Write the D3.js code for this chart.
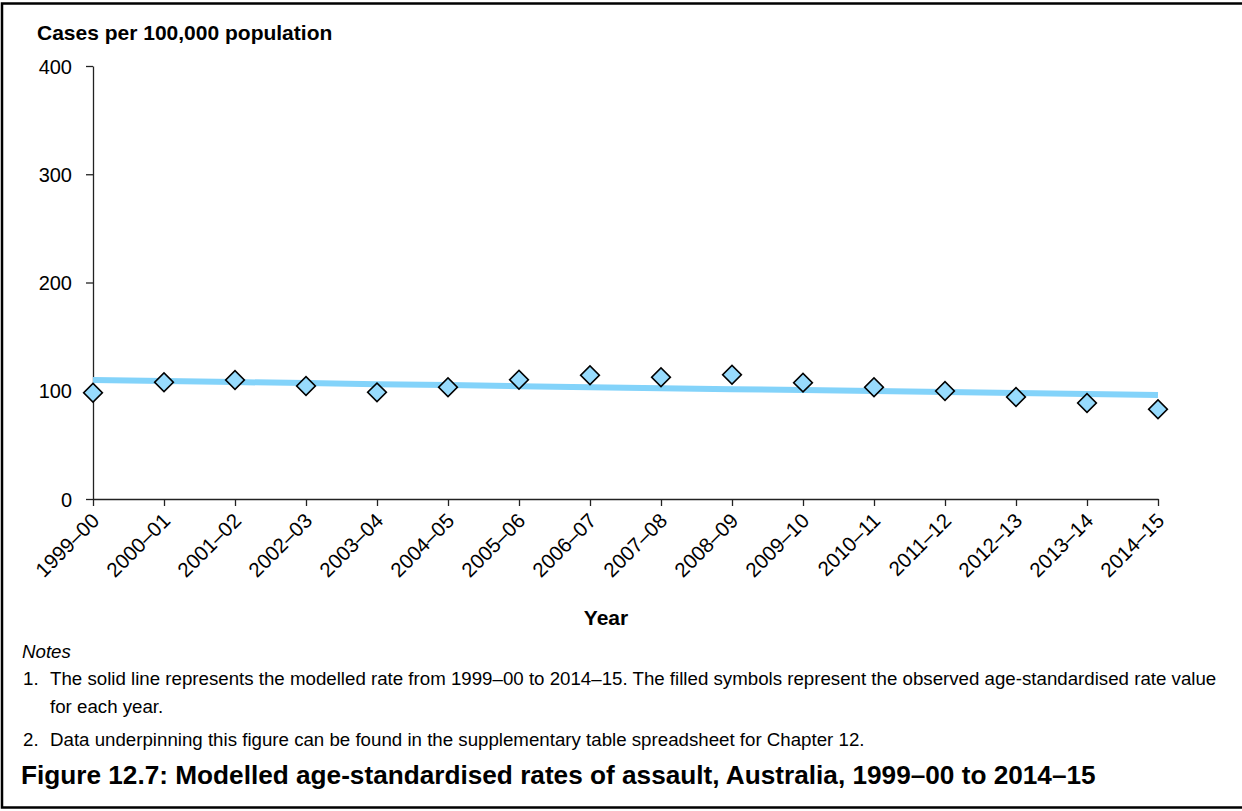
<!DOCTYPE html>
<html><head><meta charset="utf-8">
<script src="https://cdn.jsdelivr.net/npm/d3@7"></script>
<style>
html,body{margin:0;padding:0;background:#fff;}
svg{display:block;font-family:Arial,"Liberation Sans",sans-serif;}
</style></head>
<body>
<svg id="c" width="1242" height="811"></svg>
<script>
const years = ["1999–00","2000–01","2001–02","2002–03","2003–04","2004–05","2005–06","2006–07","2007–08","2008–09","2009–10","2010–11","2011–12","2012–13","2013–14","2014–15"];
const observed = [98.2,107.8,109.9,104.4,98.5,103.2,110.2,114.3,112.4,114.8,107.5,103.2,99.8,94.2,88.7,82.9];
const modelled = [110.0,109.0,108.0,107.1,106.1,105.2,104.2,103.3,102.4,101.5,100.6,99.7,98.8,97.9,97.0,96.1];
const yTicks = [0,100,200,300,400];
const yTitle = "Cases per 100,000 population";
const xTitle = "Year";
const notesHead = "Notes";
const notes = [
  ["1.", "The solid line represents the modelled rate from 1999–00 to 2014–15. The filled symbols represent the observed age-standardised rate value", "for each year."],
  ["2.", "Data underpinning this figure can be found in the supplementary table spreadsheet for Chapter 12."]
];
const caption = "Figure 12.7: Modelled age-standardised rates of assault, Australia, 1999–00 to 2014–15";

const FF = "Arial,'Liberation Sans',sans-serif";
const svg = d3.select("#c");
svg.append("rect").attr("x",2).attr("y",3.5).attr("width",1250).attr("height",804)
  .attr("fill","none").attr("stroke","#000").attr("stroke-width",2.5);

const x = d3.scalePoint().domain(years).range([93,1158]);
const y = d3.scaleLinear().domain([0,400]).range([499,66]);

// y axis
const ya = svg.append("g").attr("transform","translate(93,0)")
  .call(d3.axisLeft(y).tickValues(yTicks).tickSize(7).tickSizeOuter(0).tickPadding(14));
ya.select(".domain").attr("stroke","#222").attr("stroke-width",1.3);
ya.selectAll(".tick line").attr("stroke","#222").attr("stroke-width",1.3);
ya.selectAll(".tick text").attr("font-size",20).attr("fill","#000").attr("font-family",FF).attr("dy","0.36em");

// x axis
const xa = svg.append("g").attr("transform","translate(0,499)")
  .call(d3.axisBottom(x).tickSize(7).tickSizeOuter(0));
xa.select(".domain").attr("stroke","#222").attr("stroke-width",1.3);
xa.selectAll(".tick line").attr("stroke","#222").attr("stroke-width",1.3);
xa.selectAll(".tick text").attr("font-size",20.5).attr("fill","#000")
  .attr("font-family",FF)
  .attr("text-anchor","end").attr("y",0).attr("dy",0)
  .attr("transform","translate(7,23) rotate(-45)");

// modelled line
svg.append("path").datum(modelled)
  .attr("fill","none").attr("stroke","#83d3fa").attr("stroke-width",6)
  .attr("d", d3.line().x((d,i)=>x(years[i])).y(d=>y(d)));

// observed diamonds
const sym = d3.symbol().type(d3.symbolSquare).size(175);
svg.append("g").selectAll("path").data(observed).join("path")
  .attr("d", sym)
  .attr("transform",(d,i)=>`translate(${x(years[i])},${y(d)}) rotate(45)`)
  .attr("fill","#97dbfd").attr("stroke","#000").attr("stroke-width",1.6);

// titles
svg.append("text").attr("x",37).attr("y",40).attr("font-size",21).attr("font-weight","bold").text(yTitle);
svg.append("text").attr("x",606).attr("y",625).attr("text-anchor","middle").attr("font-size",21).attr("font-weight","bold").text(xTitle);

svg.append("text").attr("x",22).attr("y",658).attr("font-size",18.7).attr("font-style","italic").text(notesHead);
const nb = [685, 746];
notes.forEach((n,i)=>{
  svg.append("text").attr("x",23).attr("y",nb[i]).attr("font-size",18.7).text(n[0]);
  svg.append("text").attr("x",50).attr("y",nb[i]).attr("font-size",18.7).text(n[1]);
  if (n[2]) svg.append("text").attr("x",50).attr("y",nb[i]+28).attr("font-size",18.7).text(n[2]);
});
svg.append("text").attr("x",21).attr("y",784).attr("font-size",26.2).attr("font-weight","bold").text(caption);
</script>
</body></html>
